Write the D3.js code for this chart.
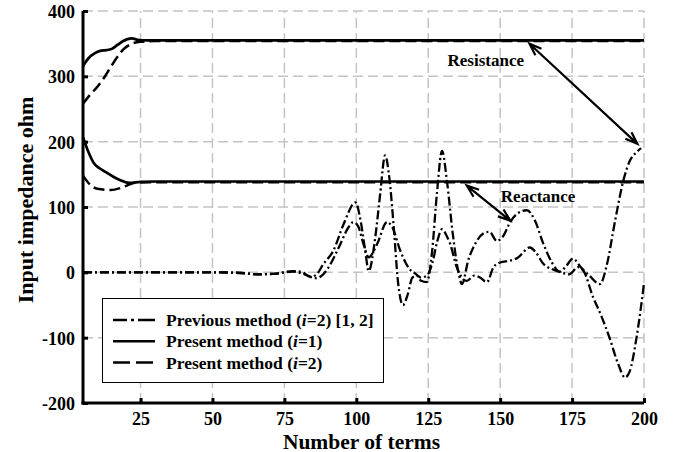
<!DOCTYPE html>
<html>
<head>
<meta charset="utf-8">
<script src="https://cdn.jsdelivr.net/npm/d3@7"></script>
<style>
  body { margin: 0; background: #fff; }
  svg { display: block; font-family: "Liberation Serif", "Times New Roman", serif; font-weight: bold; }
</style>
</head>
<body>
<figure id="chart" style="margin:0"></figure>
<script>
// tick values
const xTicks = [25, 50, 75, 100, 125, 150, 175, 200];
const yTicks = [-200, -100, 0, 100, 200, 300, 400];

// present method, i=1 (solid)
const resI1Terms = [5, 7, 9, 11, 13, 15, 17, 19, 20.5, 22, 24, 27, 200];
const resI1 = [316, 328, 335, 339, 340, 342, 348, 354, 357, 358, 356, 355, 355];
const reaI1Terms = [5, 7, 8.8, 10.5, 12.3, 15.7, 18, 21, 25, 30, 200];
const reaI1 = [207, 183, 167, 160, 155, 146, 141, 137, 138.5, 139, 139];

// present method, i=2 (dashed)
const resI2Terms = [5, 7.5, 10, 12.5, 14.6, 17, 19.2, 22, 25, 30, 200];
const resI2 = [258, 272, 284, 299, 314, 330, 342, 350, 353, 354, 354];
const reaI2Terms = [5, 7.5, 10, 14.6, 18, 20.4, 23, 28, 200];
const reaI2 = [148, 134, 128, 126, 129, 133, 137, 138, 138];

// previous method, i=2 (dash-dot), two curves
const prevATerms = [5, 30, 50, 60, 66, 72, 78, 81, 84, 86, 88.6, 92, 95.6, 99.7, 101.5, 103.1, 104.3,
  106.6, 108.3, 110, 111.6, 113, 114.5, 116.2, 117.8, 119.5, 121, 122.5, 124.5, 126.3, 128, 129.8,
  131.5, 133.5, 135.5, 136.7, 139, 141.5, 144, 146.3, 148.8, 151, 153.5, 156, 159.3, 162, 165, 168,
  170.8, 173, 175.3, 178, 181, 184.7, 187, 190, 192.8, 195, 197.4, 199];
const prevA = [0, 0, 0, -1, -3, -2, 2, 1, -7, -4, 13, 33, 74, 107, 79, 33, 2,
  54, 120, 179, 140, 70, -15, -50, -35, -8, -5, -13, -15, 30, 120, 186,
  140, 60, 0, -18, 20, 45, 59, 62, 48, 55, 77, 90, 95, 80, 44, 15,
  1, 10, 21, 8, -5, -18, 10, 80, 140, 170, 184, 190];
const prevBTerms = [5, 30, 50, 60, 66, 72, 78, 82, 85.8, 88, 90.4, 93.9, 97.3, 99, 100.7, 102.5, 104.3,
  107.2, 110.7, 112.5, 115.3, 118.5, 120.5, 122.5, 124.5, 126.5, 128, 129.8, 131.5, 132.6, 134.9,
  138.4, 141, 143, 145.4, 147.7, 150, 153.5, 156, 160.3, 162.5, 165, 168, 171, 174, 177, 179, 182.3,
  185, 188, 191, 193.4, 195, 197.4, 200];
const prevB = [0, 0, 0, -1, -3, -2, 1, -3, -9, -5, 8, 38, 69, 77, 70, 43, 23,
  43, 77, 69, 33, 5, -2, -8, -5, 15, 45, 66, 55, 44, 8,
  -13, -5, -8, -15, 8, 15, 18, 22, 38, 30, 13, 5, 0, -3, 8, 2, -38,
  -65, -100, -140, -161, -152, -100, -17];

// legend and annotation texts
const legendLabels = ["Previous method (", "Present method (", "Present method ("];
const legendTails = ["=2) [1, 2]", "=1)", "=2)"];
const annotations = [
  { text: "Resistance", tx: 145, ty: 316, from: [160.2, 349.8], to: [197.7, 196.6] },
  { text: "Reactance", tx: 163.2, ty: 107, from: [138.4, 132.8], to: [153.5, 79.2] }
];

const width = 676, height = 452;
const margin = { top: 11, right: 32, bottom: 49, left: 83 };

const svg = d3.select("#chart").append("svg")
  .attr("width", width)
  .attr("height", height);

svg.append("rect").attr("width", width).attr("height", height).attr("fill", "#fff");

const x = d3.scaleLinear().domain([5, 200]).range([margin.left, width - margin.right]);
const y = d3.scaleLinear().domain([-200, 400]).range([height - margin.bottom, margin.top]);

// grid
const grid = svg.append("g")
  .attr("stroke", "#c4c4c4")
  .attr("stroke-width", 1.5)
  .attr("stroke-dasharray", "10,5");
grid.selectAll("line.v").data(xTicks).enter().append("line")
  .attr("x1", d => x(d)).attr("x2", d => x(d))
  .attr("y1", y(-200)).attr("y2", y(400));
grid.selectAll("line.h").data(yTicks.filter(d => d > -200)).enter().append("line")
  .attr("x1", x(5)).attr("x2", x(200))
  .attr("y1", d => y(d)).attr("y2", d => y(d));

// curves
const line = d3.line().x(d => x(d[0])).y(d => y(d[1])).curve(d3.curveMonotoneX);
const zip = (a, b) => a.map((t, i) => [t, b[i]]);

const series = [
  { data: zip(prevATerms, prevA), dash: "9,3,2,3", w: 2.3 },
  { data: zip(prevBTerms, prevB), dash: "9,3,2,3", w: 2.3 },
  { data: zip(resI1Terms, resI1), dash: null, w: 2.7 },
  { data: zip(reaI1Terms, reaI1), dash: null, w: 2.7 },
  { data: zip(resI2Terms, resI2), dash: "11,5", w: 2.5 },
  { data: zip(reaI2Terms, reaI2), dash: "11,5", w: 2.5 }
];

svg.selectAll("path.curve").data(series).enter().append("path")
  .attr("class", "curve")
  .attr("d", d => line(d.data))
  .attr("fill", "none")
  .attr("stroke", "#000")
  .attr("stroke-width", d => d.w)
  .attr("stroke-dasharray", d => d.dash);

// axes (plain hyphen for negatives, as in the original)
const fmt = d => String(d);
const xAxis = svg.append("g")
  .attr("transform", `translate(0,${y(-200)})`)
  .call(d3.axisBottom(x).tickValues(xTicks).tickFormat(fmt).tickSizeInner(-5).tickSizeOuter(0).tickPadding(9));
const yAxis = svg.append("g")
  .attr("transform", `translate(${x(5)},0)`)
  .call(d3.axisLeft(y).tickValues(yTicks).tickFormat(fmt).tickSizeInner(-5).tickSizeOuter(0).tickPadding(8));

[xAxis, yAxis].forEach(g => {
  g.select(".domain").attr("stroke", "#000").attr("stroke-width", 3);
  g.selectAll(".tick line").attr("stroke", "#000").attr("stroke-width", 3);
  g.selectAll(".tick text")
    .attr("fill", "#000")
    .style("font-family", "'Liberation Serif', 'Times New Roman', serif")
    .style("font-weight", "bold")
    .style("font-size", "18px");
});
yAxis.selectAll(".tick text").attr("dx", "0").attr("dy", "0.36em");
yAxis.select(".domain").attr("d", `M0,${y(-200) + 1.5}V${y(400)}`);
xAxis.select(".domain").attr("d", `M${x(5) - 1.5},0H${x(200)}`);

// axis titles
svg.append("text")
  .attr("x", (x(5) + x(200)) / 2 - 2)
  .attr("y", 448.5)
  .attr("text-anchor", "middle")
  .style("font-size", "21.5px")
  .text("Number of terms");

svg.append("text")
  .attr("transform", `translate(33,${y(100) - 7}) rotate(-90)`)
  .attr("text-anchor", "middle")
  .style("font-size", "22px")
  .text("Input impedance ohm");

// annotations
function arrowHead(x0, y0, x1, y1) {
  const a = Math.atan2(y0 - y1, x0 - x1);
  const len = 13, sp = 0.35;
  return `M${x1 + len * Math.cos(a + sp)},${y1 + len * Math.sin(a + sp)}L${x1},${y1}` +
    `L${x1 + len * Math.cos(a - sp)},${y1 + len * Math.sin(a - sp)}`;
}
const ann = svg.append("g");
annotations.forEach(d => {
  const x0 = x(d.from[0]), y0 = y(d.from[1]), x1 = x(d.to[0]), y1 = y(d.to[1]);
  ann.append("path")
    .attr("d", `M${x0},${y0}L${x1},${y1}` + arrowHead(x0, y0, x1, y1) + arrowHead(x1, y1, x0, y0))
    .attr("fill", "none")
    .attr("stroke", "#000")
    .attr("stroke-width", 2.2);
  ann.append("text")
    .attr("x", x(d.tx))
    .attr("y", y(d.ty))
    .attr("text-anchor", "middle")
    .style("font-size", "17px")
    .text(d.text);
});

// legend
const legend = svg.append("g");
legend.append("rect")
  .attr("x", 102.5).attr("y", 298.5)
  .attr("width", 281).attr("height", 84)
  .attr("fill", "#fff")
  .attr("stroke", "#000")
  .attr("stroke-width", 1);

const legendDash = ["14,4,3,4,18", null, "17,6"];
legendLabels.forEach((lab, i) => {
  const cy = 320 + i * 21.3;
  legend.append("line")
    .attr("x1", 113).attr("x2", 155)
    .attr("y1", cy).attr("y2", cy)
    .attr("stroke", "#000")
    .attr("stroke-width", 2.5)
    .attr("stroke-dasharray", legendDash[i]);
  const t = legend.append("text")
    .attr("x", 166).attr("y", cy + 6)
    .style("font-size", "17.5px");
  t.append("tspan").text(lab);
  t.append("tspan").style("font-style", "italic").text("i");
  t.append("tspan").text(legendTails[i]);
});
</script>
</body>
</html>
